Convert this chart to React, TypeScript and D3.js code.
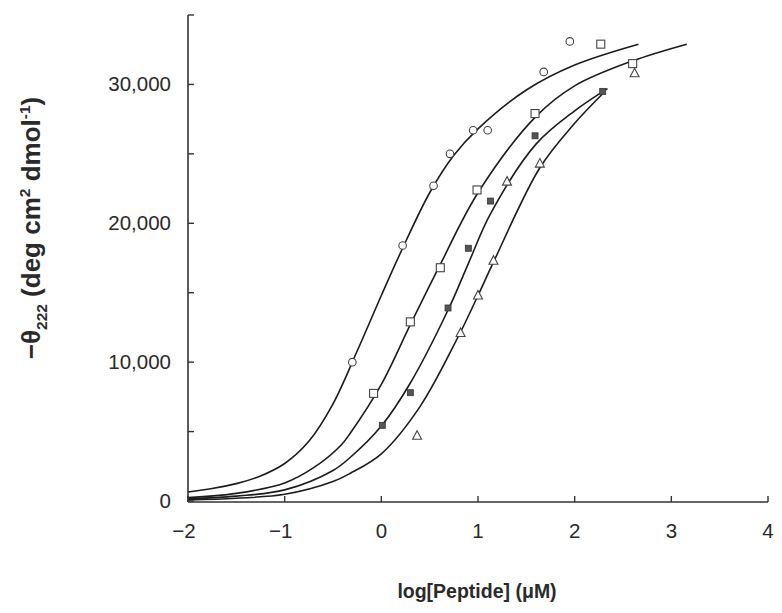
import React from "react";
import * as d3 from "d3";

const W = 782;
const H = 613;

// Fitted curves: [log concentration, -theta222]
const curve1X = [-2, -1.75, -1.5, -1.25, -1, -0.75, -0.5, -0.25, 0, 0.2, 0.5, 0.75, 1.0, 1.5, 2.0, 2.66];
const curve1Y = [650, 900, 1250, 1800, 2700, 4300, 7000, 10800, 14800, 17900, 22200, 24900, 26800, 29600, 31400, 32900];
const curve2X = [-2, -1.5, -1, -0.7, -0.42, -0.32, 0, 0.3, 0.6, 1.0, 1.6, 2.0, 2.6, 3.16];
const curve2Y = [250, 550, 1300, 2400, 4000, 4900, 8400, 12700, 16900, 22200, 27700, 29900, 31700, 32900];
const curve3X = [-2, -1.5, -1, -0.5, -0.32, 0, 0.3, 0.7, 0.9, 1.13, 1.6, 2.0, 2.34];
const curve3Y = [150, 350, 800, 2200, 3150, 5400, 8500, 13900, 17100, 20700, 25700, 28100, 29700];
const curve4X = [-2, -1.5, -1, -0.5, -0.32, 0, 0.4, 0.8, 1.0, 1.16, 1.64, 2.0, 2.3];
const curve4Y = [80, 200, 480, 1400, 2000, 3400, 6800, 11900, 14800, 17200, 24000, 27200, 29400];

// Measured points
const circleX = [-0.3, 0.22, 0.54, 0.71, 0.95, 1.1, 1.68, 1.95];
const circleY = [10000, 18400, 22700, 25000, 26700, 26700, 30900, 33100];
const squareX = [-0.08, 0.3, 0.61, 0.99, 1.59, 2.27, 2.6];
const squareY = [7750, 12900, 16800, 22400, 27900, 32900, 31500];
const filledX = [0.01, 0.3, 0.69, 0.9, 1.13, 1.59, 2.29];
const filledY = [5450, 7800, 13900, 18200, 21600, 26300, 29500];
const triangleX = [0.37, 0.82, 1.0, 1.16, 1.3, 1.64, 2.62];
const triangleY = [4700, 12100, 14800, 17300, 23000, 24300, 30800];

const xTicks = [-2, -1, 0, 1, 2, 3, 4];
const yTicks = [0, 5000, 10000, 15000, 20000, 25000, 30000, 35000];
const yLabelTicks = [0, 10000, 20000, 30000];

const zip = (xs: number[], ys: number[]) => xs.map((x, i) => [x, ys[i]] as [number, number]);

export default function App() {
  const left = 188;
  const right = 768;
  const top = 15;
  const bottom = 501;
  const x = d3.scaleLinear().domain([-2, 4]).range([left, right]);
  const y = d3.scaleLinear().domain([0, 35000]).range([bottom, top]);
  const line = d3
    .line<[number, number]>()
    .x((d) => x(d[0]))
    .y((d) => y(d[1]))
    .curve(d3.curveCatmullRom.alpha(0.5));

  const curves = [
    zip(curve1X, curve1Y),
    zip(curve2X, curve2Y),
    zip(curve3X, curve3Y),
    zip(curve4X, curve4Y),
  ];
  const ink = "#1c1c1c";
  const font = "'Liberation Sans', Arial, Helvetica, sans-serif";
  const fmt = d3.format(",");

  return (
    <svg width={W} height={H} style={{ position: "absolute", left: 0, top: 0, background: "#fff" }}>
      <rect width={W} height={H} fill="#fff" />
      {/* curves */}
      {curves.map((c, i) => (
        <path key={i} d={line(c) || ""} fill="none" stroke={ink} strokeWidth={1.6} />
      ))}
      {/* axes */}
      <line x1={left} x2={left} y1={top} y2={bottom + 1} stroke="#333" strokeWidth={1.6} />
      <line x1={left} x2={right} y1={bottom + 1} y2={bottom + 1} stroke="#333" strokeWidth={1.6} />
      {yTicks.map((t) => (
        <line key={"yt" + t} x1={left} x2={left + 6} y1={y(t)} y2={y(t)} stroke="#333" strokeWidth={1.4} />
      ))}
      {xTicks.map((t) => (
        <line key={"xt" + t} x1={x(t)} x2={x(t)} y1={bottom + 1} y2={bottom - 5} stroke="#333" strokeWidth={1.4} />
      ))}
      {yLabelTicks.map((t) => (
        <text
          key={"yl" + t}
          x={left - 17}
          y={y(t) + 7}
          textAnchor="end"
          fontFamily={font}
          fontSize={20.5}
          fill="#2a2a2a"
        >
          {fmt(t)}
        </text>
      ))}
      {xTicks.map((t) => (
        <text
          key={"xl" + t}
          x={x(t) - (t < 0 ? 4 : 0)}
          y={538}
          textAnchor="middle"
          fontFamily={font}
          fontSize={20.5}
          fill="#2a2a2a"
        >
          {t < 0 ? "\u2212" + Math.abs(t) : String(t)}
        </text>
      ))}
      {/* markers */}
      {zip(circleX, circleY).map((d, i) => (
        <circle key={"c" + i} cx={x(d[0])} cy={y(d[1])} r={3.8} fill="#fff" stroke="#444" strokeWidth={1.1} />
      ))}
      {zip(squareX, squareY).map((d, i) => (
        <rect key={"s" + i} x={x(d[0]) - 4} y={y(d[1]) - 4} width={8} height={8} fill="#fff" stroke="#444" strokeWidth={1.1} />
      ))}
      {zip(filledX, filledY).map((d, i) => (
        <rect key={"f" + i} x={x(d[0]) - 3} y={y(d[1]) - 3} width={6} height={6} fill="#555" stroke="#333" strokeWidth={0.8} />
      ))}
      {zip(triangleX, triangleY).map((d, i) => {
        const cx = x(d[0]);
        const cy = y(d[1]);
        return (
          <path
            key={"t" + i}
            d={`M${cx},${cy - 5}L${cx + 4.5},${cy + 3.5}L${cx - 4.5},${cy + 3.5}Z`}
            fill="#fff"
            stroke="#444"
            strokeWidth={1.1}
          />
        );
      })}
      {/* axis titles */}
      <text x={477} y={598} textAnchor="middle" fontFamily={font} fontSize={19.5} fontWeight="bold" fill="#2a2a2a">
        log[Peptide] (μM)
      </text>
      <text
        transform="translate(40,228) rotate(-90)"
        textAnchor="middle"
        fontFamily={font}
        fontSize={26}
        fontWeight="bold"
        fill="#2a2a2a"
      >
        <tspan>−θ</tspan>
        <tspan fontSize={15.5} dy={7}>222</tspan>
        <tspan dy={-7}> (deg cm</tspan>
        <tspan fontSize={15.5} dy={-10}>2</tspan>
        <tspan dy={10}> dmol</tspan>
        <tspan fontSize={15.5} dy={-10}>-1</tspan>
        <tspan dy={10}>)</tspan>
      </text>
    </svg>
  );
}
